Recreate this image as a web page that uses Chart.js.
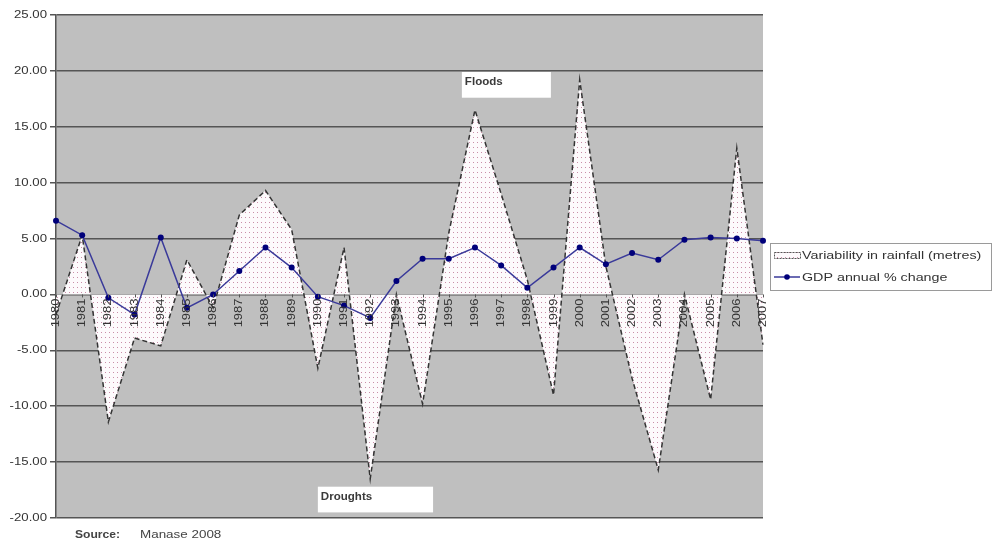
<!DOCTYPE html>
<html>
<head>
<meta charset="utf-8">
<script src="https://cdn.jsdelivr.net/npm/chart.js@4/dist/chart.umd.min.js"></script>
<style>
  html, body { margin: 0; padding: 0; background: #ffffff; }
  #wrap { width: 992px; height: 546px; }
</style>
</head>
<body>
<div id="wrap"><canvas id="c" width="992" height="546"></canvas></div>
<script>
// ---- data ----
const years = ['1980','1981','1982','1983','1984','1985','1986','1987','1988','1989',
               '1990','1991','1992','1993','1994','1995','1996','1997','1998','1999',
               '2000','2001','2002','2003','2004','2005','2006','2007'];
const rainfallVariability = [-1.8, 5.3, -11.4, -3.9, -4.6, 3.1, -1.2, 7.1, 9.3, 5.8,
                             -6.6, 4.2, -16.5, 0.0, -9.8, 5.5, 16.5, 9.0, 1.3, -9.0,
                             19.2, 2.5, -7.5, -15.7, 0.0, -9.4, 13.1, -4.5];
const gdpChange = [6.6, 5.3, -0.3, -1.8, 5.1, -1.2, 0.0, 2.1, 4.2, 2.4,
                   -0.2, -1.0, -2.1, 1.2, 3.2, 3.2, 4.2, 2.6, 0.6, 2.4,
                   4.2, 2.7, 3.7, 3.1, 4.9, 5.1, 5.0, 4.8];
const seriesNames = ['Variability in rainfall (metres)', 'GDP annual % change'];
const yMin = -20, yMax = 25, yStep = 5;
const annotations = [
  { text: 'Floods',   x0: 15.5, x1: 18.9, yTop: 19.9,  yBot: 17.6 },
  { text: 'Droughts', x0: 10.0, x1: 14.4, yTop: -17.2, yBot: -19.5 }
];
const sourceLabel = 'Source:';
const sourceText = 'Manase 2008';

const FONT = '"Liberation Sans", Arial, sans-serif';

// ---- dotted fill pattern ----
function makePattern() {
  const p = document.createElement('canvas');
  p.width = 4; p.height = 5;
  const g = p.getContext('2d');
  g.fillStyle = '#fdfafc';
  g.fillRect(0, 0, 4, 5);
  g.fillStyle = '#c98ea8';
  g.fillRect(1, 2, 1, 1);
  return g.createPattern(p, 'repeat');
}
const dotPattern = makePattern();

function wideText(ctx, text, x, y, sx, align) {
  ctx.save();
  ctx.translate(x, y);
  ctx.scale(sx, 1);
  ctx.textAlign = align || 'left';
  ctx.fillText(text, 0, 0);
  ctx.restore();
}

const decor = {
  id: 'decor',
  beforeDraw(chart) {
    const { ctx, chartArea: a } = chart;
    ctx.save();
    ctx.fillStyle = '#bfbfbf';
    ctx.fillRect(a.left, a.top, a.right - a.left, a.bottom - a.top);
    ctx.restore();
  },
  afterDatasetsDraw(chart) {
    const { ctx, chartArea: a } = chart;
    const xs = chart.scales.x, ys = chart.scales.y;
    const zeroY = ys.getPixelForValue(0);
    ctx.save();
    // y tick labels
    ctx.fillStyle = '#333';
    ctx.font = '11px ' + FONT;
    ctx.textBaseline = 'middle';
    for (let v = yMin; v <= yMax; v += yStep) {
      wideText(ctx, v.toFixed(2), a.left - 9, ys.getPixelForValue(v), 1.2, 'right');
    }
    // category ticks & rotated labels at the zero line
    ctx.strokeStyle = '#555';
    ctx.lineWidth = 1;
    years.forEach((yr, i) => {
      const px = Math.round(xs.getPixelForValue(i)) + 0.5;
      ctx.beginPath();
      ctx.moveTo(px, zeroY);
      ctx.lineTo(px, zeroY + 3);
      ctx.stroke();
      ctx.save();
      ctx.translate(px, zeroY + 4);
      ctx.rotate(-Math.PI / 2);
      ctx.scale(1.3, 1);
      ctx.fillStyle = '#333';
      ctx.font = '10px ' + FONT;
      ctx.textAlign = 'right';
      ctx.textBaseline = 'middle';
      ctx.fillText(yr, 0, 0);
      ctx.restore();
    });
    // annotation boxes
    annotations.forEach(an => {
      const l = xs.getPixelForValue(an.x0), r = xs.getPixelForValue(an.x1);
      const t = ys.getPixelForValue(an.yTop), b = ys.getPixelForValue(an.yBot);
      ctx.fillStyle = '#ffffff';
      ctx.fillRect(l, t, r - l, b - t);
      ctx.fillStyle = '#3a3a3a';
      ctx.font = 'bold 11px ' + FONT;
      ctx.textBaseline = 'middle';
      wideText(ctx, an.text, l + 3, t + 10, 1.05, 'left');
    });
    ctx.restore();
  },
  afterDraw(chart) {
    const { ctx, chartArea: a } = chart;
    ctx.save();
    // legend
    const lx = a.right + 7, ly = 243, lw = 221, lh = 47;
    ctx.fillStyle = '#ffffff';
    ctx.fillRect(lx, ly, lw, lh);
    ctx.strokeStyle = '#9a9a9a';
    ctx.lineWidth = 1;
    ctx.strokeRect(lx + 0.5, ly + 0.5, lw, lh);
    ctx.font = '11px ' + FONT;
    ctx.textBaseline = 'middle';
    // row 1
    const r1 = ly + 12;
    ctx.fillStyle = dotPattern;
    ctx.fillRect(lx + 4, r1 - 3, 26, 6);
    ctx.setLineDash([2, 1]);
    ctx.strokeStyle = '#555';
    ctx.strokeRect(lx + 4.5, r1 - 2.5, 26, 6);
    ctx.setLineDash([]);
    ctx.fillStyle = '#333';
    wideText(ctx, seriesNames[0], lx + 32, r1 + 1, 1.3, 'left');
    // row 2
    const r2 = ly + 34;
    ctx.strokeStyle = '#3a3a9a';
    ctx.lineWidth = 1.5;
    ctx.beginPath();
    ctx.moveTo(lx + 4, r2); ctx.lineTo(lx + 30, r2); ctx.stroke();
    ctx.fillStyle = '#00007a';
    ctx.beginPath(); ctx.arc(lx + 17, r2, 2.8, 0, Math.PI * 2); ctx.fill();
    ctx.fillStyle = '#333';
    wideText(ctx, seriesNames[1], lx + 32, r2 + 1, 1.3, 'left');
    // source
    ctx.font = 'bold 11px ' + FONT;
    ctx.fillStyle = '#444';
    wideText(ctx, sourceLabel, 75, 535, 1.1, 'left');
    ctx.font = '11px ' + FONT;
    wideText(ctx, sourceText, 140, 535, 1.22, 'left');
    ctx.restore();
  }
};

new Chart(document.getElementById('c'), {
  type: 'line',
  data: {
    labels: years,
    datasets: [
      {
        label: seriesNames[1],
        data: gdpChange,
        borderColor: '#3a3a9a',
        borderWidth: 1.5,
        pointRadius: 3,
        pointBackgroundColor: '#00007a',
        pointBorderColor: '#00007a',
        pointBorderWidth: 0,
        fill: false,
        tension: 0,
        order: 0
      },
      {
        label: seriesNames[0],
        data: rainfallVariability,
        borderColor: '#333333',
        borderWidth: 1.5,
        borderDash: [5, 3],
        backgroundColor: dotPattern,
        pointRadius: 0,
        fill: 'origin',
        tension: 0,
        order: 1
      }
    ]
  },
  options: {
    responsive: false,
    animation: false,
    devicePixelRatio: 1,
    layout: { padding: { left: 0, right: 229, top: 15, bottom: 28 } },
    plugins: { legend: { display: false }, tooltip: { enabled: false } },
    scales: {
      x: { display: false, offset: false },
      y: {
        min: yMin, max: yMax,
        afterFit(s) { s.width = 56; },
        ticks: { stepSize: yStep, display: false },
        grid: { color: '#555', lineWidth: 1.5, tickLength: 6, drawTicks: true },
        border: { display: true, color: '#555', width: 1.5 }
      }
    }
  },
  plugins: [decor]
});
</script>
</body>
</html>
